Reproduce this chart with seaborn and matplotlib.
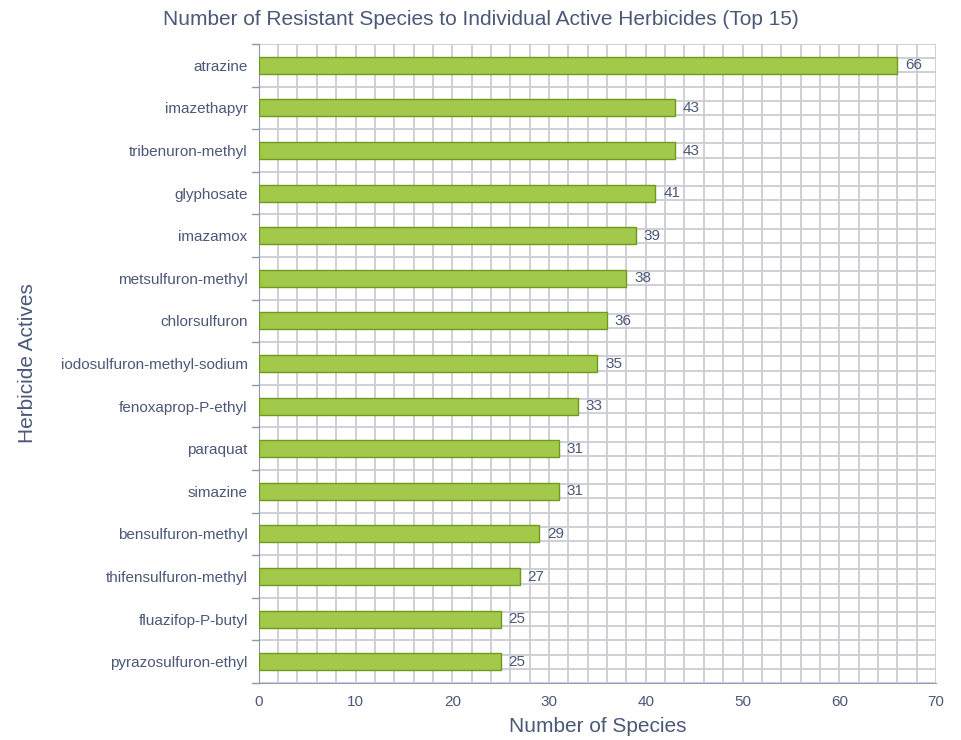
import numpy as np
import pandas as pd
import seaborn as sns
import matplotlib.pyplot as plt
from matplotlib.ticker import MultipleLocator, FixedLocator

herbicides = ["atrazine", "imazethapyr", "tribenuron-methyl", "glyphosate", "imazamox",
              "metsulfuron-methyl", "chlorsulfuron", "iodosulfuron-methyl-sodium",
              "fenoxaprop-P-ethyl", "paraquat", "simazine", "bensulfuron-methyl",
              "thifensulfuron-methyl", "fluazifop-P-butyl", "pyrazosulfuron-ethyl"]
species = [66, 43, 43, 41, 39, 38, 36, 35, 33, 31, 31, 29, 27, 25, 25]

df = pd.DataFrame({"herbicide": herbicides, "species": species})

sns.set_style("white")
plt.rcParams['font.family'] = ['Liberation Sans', 'DejaVu Sans']
txt = "#4b5878"

fig = plt.figure(figsize=(9.62, 7.4), dpi=100)
ax = fig.add_axes([0.269, 0.077, 0.704, 0.8635])

sns.barplot(data=df, x="species", y="herbicide", orient="h", color="#a3c94a",
            edgecolor="#6f9a1e", linewidth=1, width=0.4, saturation=1, ax=ax, zorder=3)

ax.set_xlim(0, 70)
ax.set_ylim(len(herbicides) - 0.5, -0.5)

# grid: vertical every 2, horizontal at thirds of each band
ax.xaxis.set_major_locator(MultipleLocator(10))
ax.xaxis.set_minor_locator(MultipleLocator(2))
ax.yaxis.set_major_locator(FixedLocator(np.arange(len(herbicides))))
ax.yaxis.set_minor_locator(FixedLocator(-0.5 + np.arange(3 * len(herbicides) + 1) / 3))
ax.grid(which="both", axis="both", color="#cbcdd2", linewidth=1.3, zorder=0)
ax.grid(which="major", axis="y", visible=False)
ax.set_axisbelow(True)

for s in ["top", "right"]:
    ax.spines[s].set_visible(False)
ax.spines["left"].set_color("#8e96a8")
ax.spines["bottom"].set_color("#8ea0c0")

ax.tick_params(axis="y", which="major", length=0, colors=txt, labelsize=11, pad=8)
ax.tick_params(axis="y", which="minor", length=0)
ax.tick_params(axis="x", which="major", length=5, colors=txt, labelsize=11, color="#8e96a8")
ax.tick_params(axis="x", which="minor", length=0)
# outward ticks at category boundaries
for b in np.arange(len(herbicides) + 1) - 0.5:
    ax.plot([-0.7, 0], [b, b], color="#8e96a8", lw=1, clip_on=False, zorder=4)

for i, v in enumerate(species):
    ax.text(v + 0.8, i, str(v), va="center", ha="left", color=txt, fontsize=11, zorder=5)

ax.set_xlabel("Number of Species", fontsize=15, color=txt, labelpad=6)
ax.set_ylabel("Herbicide Actives", fontsize=15, color=txt, labelpad=17)
fig.suptitle("Number of Resistant Species to Individual Active Herbicides (Top 15)",
             x=0.5, y=0.987, fontsize=15, color=txt)

fig.savefig("out.png", dpi=100)
